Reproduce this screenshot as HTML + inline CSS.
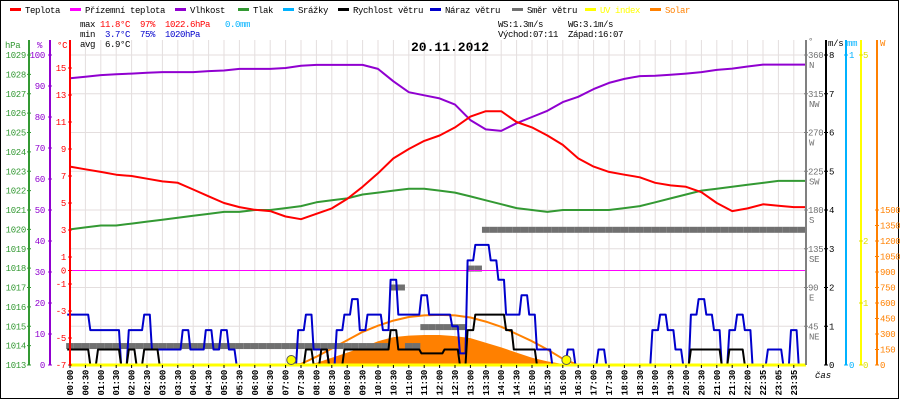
<!DOCTYPE html>
<html><head><meta charset="utf-8"><title>Weather 20.11.2012</title>
<style>
html,body{margin:0;padding:0;background:#fff;}
svg{display:block;font-family:"Liberation Mono",monospace;}
</style></head>
<body>
<svg id="chart" width="900" height="400" viewBox="0 0 900 400" xmlns="http://www.w3.org/2000/svg">
<rect x="0.5" y="0.5" width="898" height="398" fill="#fff" stroke="#000"/>
<g id="grid"></g>
<g id="series"></g>
<g id="axes"></g>
<g id="legend" font-size="9" letter-spacing="-0.4"></g>
<g font-size="9" letter-spacing="-0.4">
<text x="80" y="27">max</text>
<text x="100" y="27" fill="#ff0000">11.8°C</text>
<text x="140" y="27" fill="#ff0000">97%</text>
<text x="165" y="27" fill="#ff0000">1022.6hPa</text>
<text x="225" y="27" fill="#00b2ff">0.0mm</text>
<text x="80" y="37">min</text>
<text x="105" y="37" fill="#0000cc">3.7°C</text>
<text x="140" y="37" fill="#0000cc">75%</text>
<text x="165" y="37" fill="#0000cc">1020hPa</text>
<text x="80" y="47">avg</text>
<text x="105" y="47">6.9°C</text>
<text x="498" y="27">WS:1.3m/s</text>
<text x="568" y="27">WG:3.1m/s</text>
<text x="498" y="37">Východ:07:11</text>
<text x="568" y="37">Západ:16:07</text>
</g>
<text x="450" y="51" text-anchor="middle" font-size="13" font-weight="bold">20.11.2012</text>
<text x="815" y="378" font-size="9" font-style="italic">čas</text>
</svg>
<script>
// ---- data ----
const timeLabels = ["00:00","00:30","01:00","01:30","02:00","02:30","03:00","03:30","04:00","04:30","05:00","05:30","06:00","06:30","07:00","07:30","08:00","08:30","09:00","09:30","10:00","10:30","11:00","11:30","12:00","12:30","13:00","13:30","14:00","14:30","15:00","15:30","16:00","16:30","17:00","17:30","18:00","18:30","19:00","19:30","20:00","20:30","21:00","21:30","22:00","22:35","23:05","23:35"];
const temperature = [7.7,7.5,7.3,7.1,7.0,6.8,6.6,6.5,6.0,5.5,5.0,4.7,4.5,4.4,4.0,3.8,4.2,4.6,5.3,6.2,7.2,8.3,9.0,9.6,10.0,10.6,11.4,11.8,11.8,11.0,10.6,10.0,9.3,8.3,7.7,7.3,7.1,6.9,6.5,6.3,6.2,5.8,5.0,4.4,4.6,4.9,4.8,4.7];
const feelsLike = [0,0,0,0,0,0,0,0,0,0,0,0,0,0,0,0,0,0,0,0,0,0,0,0,0,0,0,0,0,0,0,0,0,0,0,0,0,0,0,0,0,0,0,0,0,0,0,0];
const humidity = [92.5,93,93.5,93.8,94,94.3,94.5,94.5,94.5,94.8,95,95.5,95.5,95.5,95.8,96.5,96.8,96.8,96.8,96.8,95.5,91.5,88,87,86,84,79,76,75.5,78,80,82,84.8,86.5,89,91,92.3,93.2,93.3,93.6,94,94.5,95.2,95.6,96.3,96.9,96.9,96.9];
const pressure = [1020.0,1020.1,1020.2,1020.2,1020.3,1020.4,1020.5,1020.6,1020.7,1020.8,1020.9,1020.9,1021.0,1021.0,1021.1,1021.2,1021.4,1021.5,1021.6,1021.8,1021.9,1022.0,1022.1,1022.1,1022.0,1021.9,1021.7,1021.5,1021.3,1021.1,1021.0,1020.9,1021.0,1021.0,1021.0,1021.0,1021.1,1021.2,1021.4,1021.6,1021.8,1022.0,1022.1,1022.2,1022.3,1022.4,1022.5,1022.5];
const solar = [0,0,0,0,0,0,0,0,0,0,0,0,0,0,0,0,20,70,120,170,230,270,285,290,290,280,260,215,170,120,70,35,10,0,0,0,0,0,0,0,0,0,0,0,0,0,0,0];
const solarMax = [0,0,0,0,0,0,0,0,0,0,0,0,0,0,0,10,80,160,240,320,380,430,465,480,485,480,460,420,370,300,230,150,60,0,0,0,0,0,0,0,0,0,0,0,0,0,0,0];
const uvIndex = [0,0,0,0,0,0,0,0,0,0,0,0,0,0,0,0,0,0,0,0,0,0,0,0,0,0,0,0,0,0,0,0,0,0,0,0,0,0,0,0,0,0,0,0,0,0,0,0];
// 15-minute wind data
const windGust = [1.3,1.3,1.3,0.9,0.9,0.9,0.9,0,0.9,0.9,1.3,0.4,0.4,0.4,0.4,0.9,0.4,0.4,0.9,0.4,0.9,0.4,0,0,0,0,0,0,0,0,0.9,1.3,0.4,0.4,0,0.9,1.3,1.7,0.9,1.3,1.3,0.9,2.2,1.3,1.3,1.3,1.8,1.3,1.3,1.3,1.0,0.3,2.7,3.1,3.1,2.7,2.2,1.3,1.3,1.8,1.3,0.4,0.4,0,0,0.4,0,0,0,0.4,0,0,0,0,0,0,0.9,1.3,0.9,0.4,0,1.3,1.7,1.3,0.9,0,0.9,1.3,0.9,0,0,0.4,0.4,0,0.9,0];
const windSpeed = [0.4,0.4,0.4,0,0.4,0.4,0.4,0,0.4,0,0.4,0.4,0,0,0,0,0,0,0,0,0,0,0,0,0,0,0,0,0,0,0,0.4,0,0.4,0,0,0.4,0.4,0.4,0.4,0.4,0.4,0.9,0.4,0.4,0.4,0.3,0.3,0.3,0.4,0.4,0,0.9,1.3,1.3,1.3,1.3,0.9,0.4,0.4,0.4,0,0,0,0,0,0,0,0,0,0,0,0,0,0,0,0,0,0,0,0,0.4,0.4,0.4,0.4,0,0.4,0.4,0,0,0,0,0,0,0,0];
const windDir = [22,22,22,22,22,22,22,22,22,22,22,22,22,22,22,22,22,22,22,22,22,22,22,22,22,22,22,22,22,22,22,22,22,22,22,22,22,22,22,22,22,22,90,90,22,22,44,44,44,44,44,44,112,112,157,157,157,157,157,157,157,157,157,157,157,157,157,157,157,157,157,157,157,157,157,157,157,157,157,157,157,157,157,157,157,157,157,157,157,157,157,157,157,157,157,157];
const sunEvents = [431, 967]; // minutes: sunrise 07:11, sunset 16:07

const NS='http://www.w3.org/2000/svg';
const L=70,R=806,T=40,B=365;
const xi=i=>L+15.4*i;
const xk=k=>L+7.7*k;
const xm=m=>L+m/30*15.4;
const yT=t=>270.5-t*13.5;
const yH=h=>B-h*3.1;
const yP=p=>B-(p-1013)*19.375;
const yW=v=>B-v*38.75;
const yD=d=>B-d/360*310;
const yS=w=>B-w*0.10333;
const yUV=u=>B-u*62;
const yR=r=>B-r*310;

function mk(tag,parent,attrs){const e=document.createElementNS(NS,tag);for(const k in attrs)e.setAttribute(k,attrs[k]);parent.appendChild(e);return e;}
const grid=document.getElementById('grid'),series=document.getElementById('series'),axes=document.getElementById('axes'),legend=document.getElementById('legend');

for(let i=0;i<timeLabels.length;i++){
  const g=mk('line',grid,{x1:xi(i),x2:xi(i),y1:T,y2:B,stroke:'#e4dede','stroke-width':1});
  
  
}
for(let v=0;v<=8;v++){
  const g=mk('line',grid,{x1:L,x2:R,y1:yW(v),y2:yW(v),stroke:'#e4dede','stroke-width':1});
  
  
}

function poly(pts,color,w){
  return mk('polyline',series,{points:pts.map(p=>p[0].toFixed(1)+','+p[1].toFixed(1)).join(' '),fill:'none',stroke:color,'stroke-width':w,'stroke-linejoin':'round'});
}
function ext(arr,f){const pts=arr.map((v,i)=>[xi(i),f(v)]);pts.push([R,f(arr[arr.length-1])]);return pts;}
{
  let pts=solar.map((w,i)=>[xi(i),yS(w)]);
  pts.unshift([xi(0),B]);pts.push([xi(solar.length-1),B]);
  const e=mk('polygon',series,{points:pts.map(p=>p[0].toFixed(1)+','+p[1].toFixed(1)).join(' '),fill:'#ff8000',stroke:'none'});
  
  
}
{
  const e=poly(solarMax.map((w,i)=>[xi(i),yS(w)]).filter((p,i)=>i>=14&&i<=33),'#ff8000',2);
  
  
}
windDir.forEach((d,k)=>{
  if(d==null)return;
  const e=mk('rect',series,{x:xk(k)-3.85,y:yD(d)-3,width:7.7,height:6,fill:'#707070'});
  
  
});
{
  const e=poly(ext(feelsLike,yT),'#ff00ff',1);
  
  
}
function steps(arr,f){const pts=[];arr.forEach((v,k)=>{pts.push([xk(k)-2.8,f(v)]);pts.push([xk(k)+2.8,f(v)]);});return pts;}
{
  const e=poly(steps(windGust,yW),'#0000cc',2);
  
  
}
{
  const e=poly(steps(windSpeed,yW),'#000000',2);
  
  
}
{
  const e=poly(ext(pressure,yP),'#339933',2);
  
  
}
{
  const e=poly(ext(humidity,yH),'#9000d0',2);
  
  
}
{
  const e=poly(ext(temperature,yT),'#ff0000',2);
  
  
}
{
  const e=poly(ext(uvIndex,yUV),'#ffff00',3);
  
  
}
sunEvents.forEach(m=>{
  const e=mk('circle',series,{cx:xm(m),cy:B-5,r:4.5,fill:'#ffff00',stroke:'#555','stroke-width':1});
  
  
});

function vline(x,color,name){const e=mk('line',axes,{x1:x,x2:x,y1:T,y2:B,stroke:color,'stroke-width':2});}
function txt(x,y,s,color,anchor,name){const e=mk('text',axes,{x:x,y:y,fill:color,'font-size':9,'letter-spacing':-0.3,'text-anchor':anchor||'start'});e.textContent=s;return e;}
function tick(x,y,color){const e=mk('line',axes,{x1:x-2,x2:x+2,y1:y,y2:y,stroke:color,'stroke-width':1});}
vline(29,'#339933','pressure-axis');vline(50,'#9000d0','humidity-axis');vline(70,'#ff0000','temperature-axis');
txt(5,48,'hPa','#339933','start','pressure-axis-title');
txt(37,48,'%','#9000d0','start','humidity-axis-title');
txt(57,48,'°C','#ff0000','start','temperature-axis-title');
for(let p=1013;p<=1029;p++){tick(29,yP(p),'#339933');txt(26,yP(p)+3,String(p),'#339933','end','pressure-tick-label');}
for(let h=0;h<=100;h+=10){tick(50,yH(h),'#9000d0');txt(45,yH(h)+3,String(h),'#9000d0','end','humidity-tick-label');}
[15,13,11,9,7,5,3,1,0,-1,-3,-5,-7].forEach(t=>{tick(70,yT(t),'#ff0000');txt(66,yT(t)+3,String(t),'#ff0000','end','temperature-tick-label');});
vline(806,'#808080','direction-axis');vline(826,'#000000','wind-speed-axis');vline(846,'#00b2ff','rain-axis');vline(861,'#ffff00','uv-axis');vline(877,'#ff8000','solar-axis');
txt(808,44,'°','#707070','start','direction-axis-title');
txt(828,46,'m/s','#000000','start','wind-axis-title');
txt(847,46,'mm','#00b2ff','start','rain-axis-title');
txt(880,46,'W','#ff8000','start','solar-axis-title');
const dirNames=['','NE','E','SE','S','SW','W','NW','N'];
for(let d=45;d<=360;d+=45){tick(806,yD(d),'#808080');txt(808,yD(d)+3,String(d),'#707070','start','direction-tick-label');txt(809,yD(d)+13,dirNames[d/45],'#707070','start','direction-name-label');}
for(let v=0;v<=8;v++){tick(826,yW(v),'#000');txt(829,yW(v)+3,String(v),'#000','start','wind-tick-label');}
[0,1].forEach(r=>{tick(846,yR(r),'#00b2ff');txt(849,yR(r)+3,String(r),'#00b2ff','start','rain-tick-label');});
[0,1,2,5].forEach(u=>{tick(861,yUV(u),'#e0e000');txt(863,yUV(u)+3,String(u),'#e0e000','start','uv-tick-label');});
for(let w=0;w<=1500;w+=150){tick(877,yS(w),'#ff8000');txt(880,yS(w)+3,String(w),'#ff8000','start','solar-tick-label');}
timeLabels.forEach((s,i)=>{
  const x=xi(i);
  const t=mk('line',axes,{x1:x,x2:x,y1:B,y2:B+3,stroke:'#000','stroke-width':1});
  
  
  const e=mk('text',axes,{x:0,y:0,'font-size':9,'font-weight':'bold','letter-spacing':-0.3,'text-anchor':'end',transform:`translate(${(x+3).toFixed(1)},370) rotate(-90)`});
  e.textContent=s;
  
  
});

const legItems=[['Teplota','#ff0000',10],['Přízemní teplota','#ff00ff',70],['Vlhkost','#9000d0',175],['Tlak','#339933',238],['Srážky','#00b2ff',283],['Rychlost větru','#000000',338],['Náraz větru','#0000cc',430],['Směr větru','#707070',512],['UV index','#ffff00',585],['Solar','#ff8000',650]];
legItems.forEach(([name,color,x])=>{
  const g=mk('g',legend,{});
  
  
  const l=mk('rect',g,{x:x,y:8,width:11,height:3,fill:color});
  
  
  const isText=(color==='#ffff00'||color==='#ff8000');
  const t=mk('text',g,{x:x+15,y:13,fill:isText?color:'#000'});
  t.textContent=name;
  
  
});
</script>
</body></html>
